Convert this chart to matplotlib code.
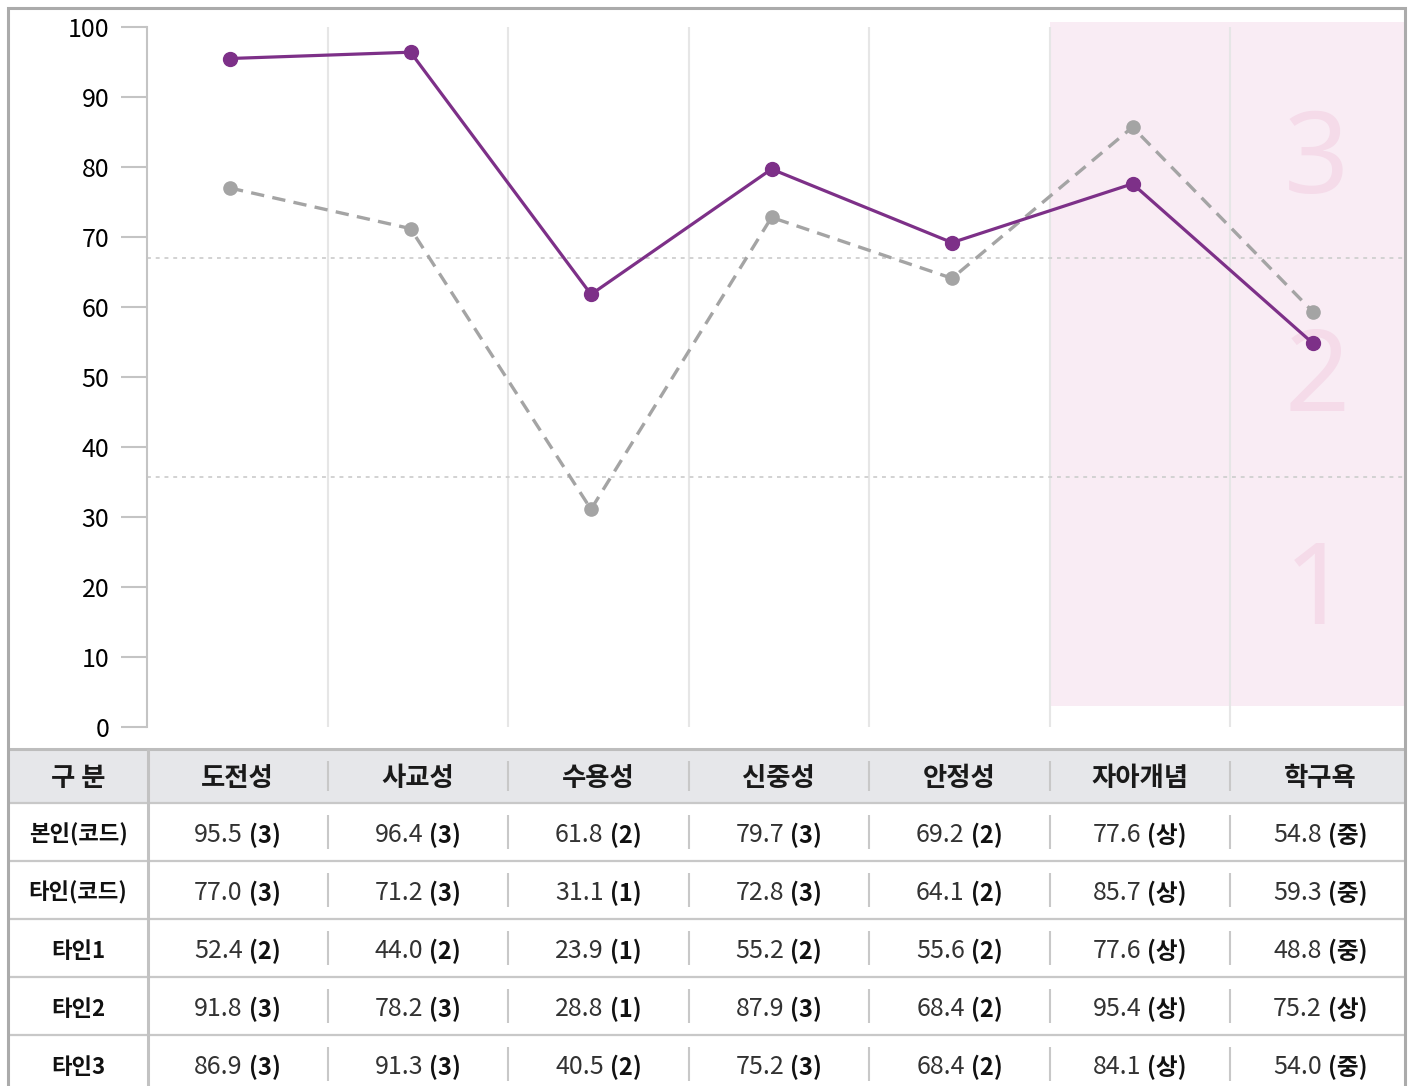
import numpy as np
import matplotlib
matplotlib.use('Agg')
import matplotlib.pyplot as plt

plt.rcParams['font.family'] = ['Noto Sans CJK KR', 'DejaVu Sans']

categories = ["도전성", "사교성", "수용성", "신중성", "안정성", "자아개념", "학구욕"]
self_code = [95.5, 96.4, 61.8, 79.7, 69.2, 77.6, 54.8]
other_code = [77.0, 71.2, 31.1, 72.8, 64.1, 85.7, 59.3]

row_labels = ["본인(코드)", "타인(코드)", "타인1", "타인2", "타인3"]
table_values = [
    [95.5, 96.4, 61.8, 79.7, 69.2, 77.6, 54.8],
    [77.0, 71.2, 31.1, 72.8, 64.1, 85.7, 59.3],
    [52.4, 44.0, 23.9, 55.2, 55.6, 77.6, 48.8],
    [91.8, 78.2, 28.8, 87.9, 68.4, 95.4, 75.2],
    [86.9, 91.3, 40.5, 75.2, 68.4, 84.1, 54.0],
]
table_grades = [
    ["3", "3", "2", "3", "2", "상", "중"],
    ["3", "3", "1", "3", "2", "상", "중"],
    ["2", "2", "1", "2", "2", "상", "중"],
    ["3", "3", "1", "3", "2", "상", "상"],
    ["3", "3", "2", "3", "2", "상", "중"],
]
band_levels = [35.7, 67.0]
band_labels = ["1", "2", "3"]
band_centers = [19.0, 49.3, 80.5]

W, H = 1410, 1086
fig = plt.figure(figsize=(W / 100, H / 100), dpi=100)


def rect(x0, y0, x1, y1):
    return [x0 / W, 1 - y1 / H, (x1 - x0) / W, (y1 - y0) / H]


# layout in pixels
ax_left, ax_right, ax_top, ax_bottom = 147, 1404, 22, 727
col_w = 180.5
px_per_unit = 7.0

ax = fig.add_axes(rect(ax_left, ax_top, ax_right, ax_bottom))
ax.set_xlim(0, (ax_right - ax_left) / col_w)
ax.set_ylim(0, (ax_bottom - ax_top) / px_per_unit)
ax.patch.set_alpha(0)

n = len(categories)
x = np.arange(n) + 0.46

# pink highlighted region for last two categories
ax.axvspan(5, 7, ymin=3 / ax.get_ylim()[1], ymax=1, color='#f9ecf4', lw=0, zorder=0)
for lab, yc in zip(band_labels, band_centers):
    ax.text(6.48, yc, lab, fontsize=82, color='#f5dbe9', ha='center', va='center',
            family='Noto Sans', fontweight='light', zorder=0.5)

ax.vlines(np.arange(1, n), 0, 100, color='#e6e6e6', lw=1.5, zorder=1)
for lv in band_levels:
    ax.axhline(lv, color='#d2d2d2', lw=1.4, ls=(0, (2, 2.5)), zorder=1)

ax.plot(x, other_code, color='#a4a4a4', lw=2.4, ls=(0, (4, 2.5)), marker='o', ms=9.5, zorder=3)
ax.plot(x, self_code, color='#7d3088', lw=2.3, marker='o', ms=10, zorder=4)

for s in ['top', 'right', 'bottom']:
    ax.spines[s].set_visible(False)
ax.spines['left'].set_bounds(0, 100)
ax.spines['left'].set_color('#c4c4c4')
ax.spines['left'].set_linewidth(1.5)
ax.set_yticks(np.arange(0, 101, 10))
ax.tick_params(axis='y', length=19, width=1.5, color='#c4c4c4', pad=8, labelsize=18, labelcolor='black')
ax.set_xticks([])

# table and frame drawn in pixel coordinates
tab = fig.add_axes([0, 0, 1, 1])
tab.set_xlim(0, W)
tab.set_ylim(H, 0)
tab.axis('off')
tab.patch.set_alpha(0)

tbl_left, tbl_right, lab_right = 8, 1406, 148
head_top, head_bot, row_h = 749, 803, 58
text_dy = 3
centers_x = [ax_left + col_w * (i + 0.5) for i in range(n)]
edges_x = [ax_left + col_w * i for i in range(1, n)]

tab.fill_between([tbl_left, tbl_right], head_top, head_bot, color='#e6e7ea', lw=0)
tab.hlines(head_top, tbl_left, tbl_right, color='#bdbdbd', lw=2.2)
row_tops = [head_bot + row_h * k for k in range(len(row_labels))]
tab.hlines(row_tops, tbl_left, tbl_right, color='#c8c8c8', lw=1.6)
tab.vlines(lab_right, head_top, H, color='#c2c2c2', lw=2.2)

head_c = (head_top + head_bot) / 2
tab.vlines(edges_x, head_c - 15, head_c + 15, color='#c8c8c8', lw=1.5)
tab.text((tbl_left + lab_right) / 2, head_c + text_dy, "구 분", fontsize=19, fontweight='bold',
         ha='center', va='center', color='#1a1a1a')
for cx, cat in zip(centers_x, categories):
    tab.text(cx, head_c + text_dy, cat, fontsize=19, fontweight='bold',
             ha='center', va='center', color='#1a1a1a')

pairs = []
for r, (lab, vals, grades) in enumerate(zip(row_labels, table_values, table_grades)):
    yc = row_tops[r] + row_h / 2
    tab.vlines(edges_x, yc - 17, yc + 17, color='#c8c8c8', lw=1.5)
    tab.text((tbl_left + lab_right) / 2, yc + text_dy, lab, fontsize=16, fontweight='bold',
             ha='center', va='center', color='#111111')
    for cx, v, g in zip(centers_x, vals, grades):
        t1 = tab.text(cx, yc + text_dy, f"{v:.1f}", fontsize=18, ha='left', va='center', color='#333333')
        t2 = tab.text(cx, yc + text_dy, f"({g})", fontsize=17, fontweight='bold', ha='left', va='center',
                      color='#111111')
        pairs.append((cx, t1, t2))

# outer frame
tab.plot([8, 8, 1405, 1405], [H, 8, 8, H], color='#ababab', lw=2.2, solid_joinstyle='miter')

fig.canvas.draw()
renderer = fig.canvas.get_renderer()
gap = 6
for cx, t1, t2 in pairs:
    w1 = t1.get_window_extent(renderer).width
    w2 = t2.get_window_extent(renderer).width
    start = cx - (w1 + gap + w2) / 2
    t1.set_x(start)
    t2.set_x(start + w1 + gap)

fig.savefig('out.png', dpi=100)
